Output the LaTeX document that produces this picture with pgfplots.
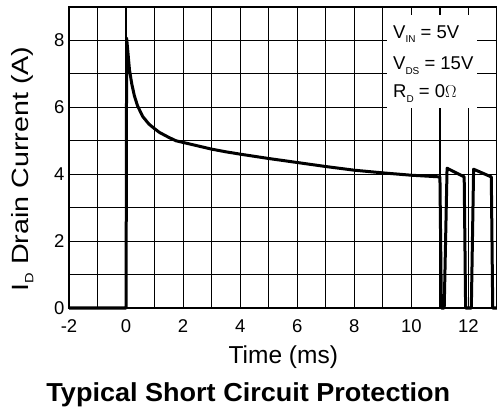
\documentclass[border=0pt]{standalone}
\usepackage{fontspec}
\setmainfont{Liberation Sans}
\usepackage{pgfplots}
\pgfplotsset{compat=1.18}
\newcommand{\sub}[1]{\raisebox{-4.5bp}{\fontsize{10}{10}\selectfont #1}}
\newcommand{\subb}[1]{\raisebox{-5bp}{\fontsize{12}{12}\selectfont #1}}
\begin{document}
\begin{tikzpicture}
\begin{axis}[
  name=ax, at={(0,0)}, anchor=south west,
  scale only axis, width=428bp, height=301bp,
  xmin=-2, xmax=13, ymin=0, ymax=9,
  xtick={-2,0,...,12}, minor xtick={-1,1,...,13},
  ytick={0,2,...,8}, minor ytick={1,3,...,9},
  grid=both,
  major grid style={black, line width=1.2bp},
  minor grid style={black, line width=1.2bp},
  major tick length=0pt, minor tick length=0pt,
  axis line style={line width=2bp},
  /pgf/number format/assume math mode=true,
  ticklabel style={font=\fontsize{18.5bp}{22bp}\selectfont},
  xticklabel style={anchor=base, yshift=-24.7bp},
  yticklabel style={anchor=east, xshift=-1bp},
  clip=false,
]
\addplot[black, line width=3bp, line join=round] coordinates {
(-2,0) (0,0) (0.02,8.07) (0.08,7.5) (0.12,7.12) (0.2,6.7) (0.29,6.35) (0.4,6.05)
(0.58,5.73) (0.8,5.5) (1.0,5.36) (1.17,5.25) (1.5,5.1) (1.75,5.0) (2,4.95)
(2.5,4.85) (3,4.75) (3.5,4.67) (4,4.6) (5,4.47) (6,4.35) (7,4.23) (8,4.12)
(9,4.04) (10,3.97) (11,3.92) (11.05,0) (11.15,0) (11.25,4.18) (11.85,3.92)
(11.9,0) (12.1,0) (12.18,4.15) (12.8,3.92) (12.85,0) (13,0)
};
\fill[white] (rel axis cs:0.743,0.664) rectangle (rel axis cs:0.953,0.973);
\node[anchor=base west, inner sep=0pt, font=\fontsize{18.5bp}{20bp}\selectfont] at (rel axis cs:0.757,0.897) {V\sub{IN} = 5V};
\node[anchor=base west, inner sep=0pt, font=\fontsize{18.5bp}{20bp}\selectfont] at (rel axis cs:0.757,0.791) {V\sub{DS} = 15V};
\node[anchor=base west, inner sep=0pt, font=\fontsize{18.5bp}{20bp}\selectfont] at (rel axis cs:0.757,0.698) {R\sub{D} = 0$\Omega$};
\end{axis}
% x label
\node[anchor=base, inner sep=0pt, font=\fontsize{24.5bp}{28bp}\selectfont] at (214.3bp,-55.3bp) {Time (ms)};
% y label
\node[anchor=base, inner sep=0pt, rotate=90, font=\fontsize{23.5bp}{28bp}\selectfont] at (-40.7bp,139bp) {\scalebox{1.22}[1]{I\subb{D}\ Drain Current (A)}};
% title
\node[anchor=base, inner sep=0pt, font=\bfseries\fontsize{26bp}{30bp}\selectfont] at (179.3bp,-93.7bp) {\scalebox{1.04}[1]{Typical Short Circuit Protection}};
\pgfresetboundingbox
\useasboundingbox (-69bp,-105bp) rectangle (428bp,308bp);
\end{tikzpicture}
\end{document}
